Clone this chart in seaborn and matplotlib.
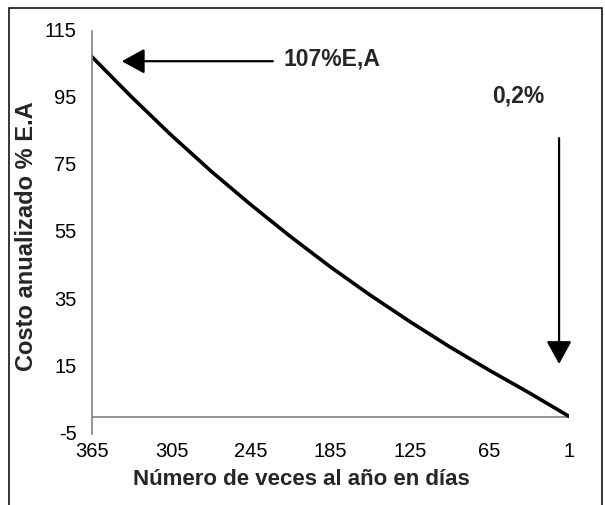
import numpy as np
import seaborn as sns
import matplotlib.pyplot as plt
from matplotlib.patches import Rectangle
from matplotlib.transforms import ScaledTranslation

# Datos: costo anualizado segun el numero de veces al año (dias)
dias = [365, 335, 305, 275, 245, 215, 185, 155, 125, 95, 65, 35, 1]
costo = [107.3, 95.3, 83.9, 73.2, 63.2, 53.7, 44.7, 36.3, 28.4, 20.9, 13.9, 7.2, 0.2]
etiquetas_x = ["365", "305", "245", "185", "125", "65", "1"]
ticks_y = [-5, 15, 35, 55, 75, 95, 115]

sns.set_style("white")
plt.rcParams["font.family"] = ["Liberation Sans", "DejaVu Sans"]
plt.rcParams["axes.unicode_minus"] = False

fig = plt.figure(figsize=(6.05, 5.06), dpi=100)
ax = fig.add_axes([92 / 605, 1 - 434.8 / 506, 477 / 605, 402.8 / 506])

pos = np.arange(len(dias))
sns.lineplot(x=pos, y=costo, color="black", linewidth=2.6, ax=ax)

ax.set_xlim(0, len(dias) - 1)
ax.set_ylim(-5, 115)
ax.set_xticks(pos[::2])
ax.set_xticklabels(etiquetas_x)
ax.set_yticks(ticks_y)
ax.tick_params(axis="both", length=0, labelsize=14.5, colors="black")
ax.tick_params(axis="y", pad=11)
ax.tick_params(axis="x", pad=5)
# etiquetas del eje y un poco por encima de la marca
desplaza = ScaledTranslation(0, 2.5 / 100, fig.dpi_scale_trans)
for lab in ax.get_yticklabels():
    lab.set_transform(lab.get_transform() + desplaza)

# ejes estilo excel
for s in ["top", "right", "bottom"]:
    ax.spines[s].set_visible(False)
ax.spines["left"].set_color("#808080")
ax.spines["left"].set_linewidth(1.2)
ax.axhline(0, color="#808080", linewidth=1.2, zorder=1)

ax.set_xlabel("Número de veces al año en días", fontsize=16, fontweight="bold")
ax.xaxis.label.set_va("center")
ax.xaxis.set_label_coords(0.439, -0.112)
ax.set_ylabel("Costo anualizado % E.A", fontsize=17, fontweight="bold")
ax.yaxis.label.set_va("center")
ax.yaxis.set_label_coords(-0.138, 0.494)

# anotaciones
flecha = dict(arrowstyle="-|>,head_length=1.0,head_width=0.55", mutation_scale=14,
              lw=1.6, color="black", shrinkA=0, shrinkB=0)
ax.annotate("", xy=(0.75, 106), xytext=(4.55, 106), arrowprops=flecha)
ax.text(4.83, 107, "107%E,A", fontsize=16.5, fontweight="bold", ha="left", va="center")
ax.annotate("", xy=(11.75, 15.8), xytext=(11.75, 83.1), arrowprops=flecha)
ax.text(10.72, 95.8, "0,2%", fontsize=16.5, fontweight="bold", ha="center", va="center")

# marco exterior
fig.patches.append(Rectangle((8.5 / 605, -0.05), (602 - 8.5) / 605, 1.05 - 9.3 / 506,
                             transform=fig.transFigure, fill=False, edgecolor="black",
                             linewidth=1.1))

plt.savefig("out.png", dpi=100)
